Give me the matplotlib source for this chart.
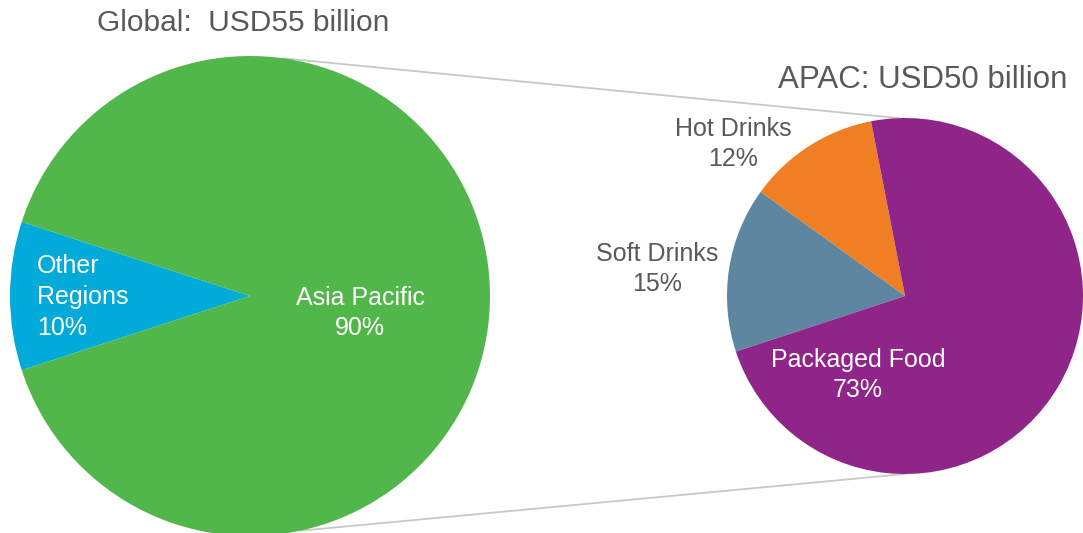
import numpy as np
import matplotlib
matplotlib.use("Agg")
import matplotlib.pyplot as plt

plt.rcParams["font.family"] = ["Liberation Sans", "DejaVu Sans"]

# Global split by region
GLOBAL_LABELS = ["Other\nRegions", "Asia Pacific"]
GLOBAL_SHARES = [10, 90]
GLOBAL_COLORS = ["#00AAD9", "#52B74A"]
GLOBAL_TITLE = "Global:  USD55 billion"

# APAC split by category
APAC_LABELS = ["Hot Drinks", "Soft Drinks", "Packaged Food"]
APAC_SHARES = [12, 15, 73]
APAC_COLORS = ["#F07E22", "#5E86A0", "#8F2589"]
APAC_TITLE = "APAC: USD50 billion"

W, H = 1083, 533
TEXT_GRAY = "#595959"
LINE_GRAY = "#C8C8C8"


def point_on(center, radius, deg):
    a = np.deg2rad(deg)
    return center[0] + radius * np.cos(a), center[1] + radius * np.sin(a)


def main() -> None:
    fig = plt.figure(figsize=(W / 100, H / 100), dpi=100)
    ax = fig.add_axes([0, 0, 1, 1])

    left_c, left_r = (250, 237), 240
    right_c, right_r = (905, 237), 178

    # zoom connector lines, drawn underneath the pies
    for a_left, a_right in ((82, 92), (-78, -90)):
        x0, y0 = point_on(left_c, left_r, a_left)
        x1, y1 = point_on(right_c, right_r, a_right)
        ax.plot([x0, x1], [y0, y1], color=LINE_GRAY, lw=1.3, zorder=0)

    ax.pie(GLOBAL_SHARES, colors=GLOBAL_COLORS, startangle=162,
           center=left_c, radius=left_r, wedgeprops=dict(linewidth=0))
    ax.pie(APAC_SHARES, colors=APAC_COLORS, startangle=101,
           center=right_c, radius=right_r, wedgeprops=dict(linewidth=0))

    # labels (pixel positions measured from the top edge)
    def label(x, y, s, color, ha="center", size=18):
        ax.text(x, H - y, s, color=color, ha=ha, va="center", fontsize=size,
                linespacing=1.35)

    label(37, 297, f"{GLOBAL_LABELS[0]}\n{GLOBAL_SHARES[0]}%", "white", ha="left")
    label(360, 313, f"{GLOBAL_LABELS[1]}\n{GLOBAL_SHARES[1]}%", "white")
    label(733, 144, f"{APAC_LABELS[0]}\n{APAC_SHARES[0]}%", TEXT_GRAY)
    label(657, 269, f"{APAC_LABELS[1]}\n{APAC_SHARES[1]}%", TEXT_GRAY)
    label(858, 375, f"{APAC_LABELS[2]}\n{APAC_SHARES[2]}%", "white")

    label(243, 23, GLOBAL_TITLE, TEXT_GRAY, size=21.5)
    label(923, 80, APAC_TITLE, TEXT_GRAY, size=22.5)

    ax.set_xlim(0, W)
    ax.set_ylim(0, H)
    ax.set_aspect("equal")
    ax.axis("off")

    fig.savefig("out.png", dpi=100, facecolor="white")


if __name__ == "__main__":
    main()
